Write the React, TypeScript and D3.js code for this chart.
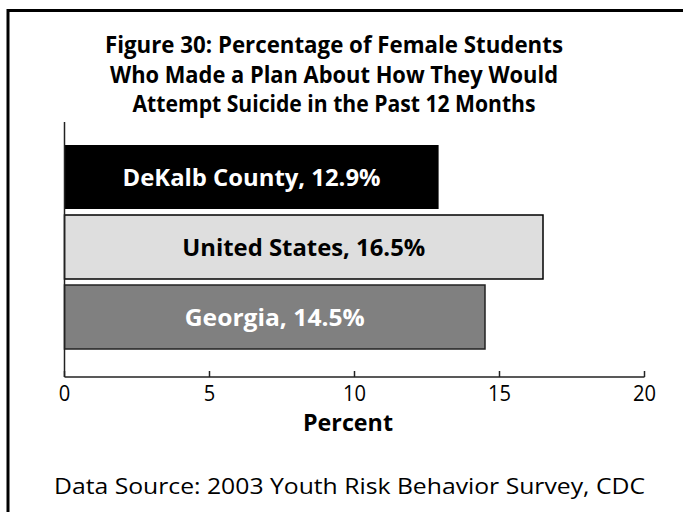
import React from "react";
import * as d3 from "d3";

// Survey results: share of female students who made a suicide plan
const categories = ["DeKalb County", "United States", "Georgia"];
const values = [12.9, 16.5, 14.5];
const barFills = ["#000000", "#dedede", "#808080"];
const labelFills = ["#ffffff", "#000000", "#ffffff"];
const xTicks = [0, 5, 10, 15, 20];
const titleLines = [
  "Figure 30: Percentage of Female Students",
  "Who Made a Plan About How They Would",
  "Attempt Suicide in the Past 12 Months",
];
const axisTitle = "Percent";
const sourceNote = "Data Source: 2003 Youth Risk Behavior Survey, CDC";

const W = 683;
const H = 512;
const FONT = "'Open Sans', 'Noto Sans', sans-serif";

export default function App() {
  const x = d3.scaleLinear().domain([0, 20]).range([64.5, 644.5]);
  const y = d3
    .scaleBand<string>()
    .domain(categories)
    .range([142, 352])
    .paddingInner(6 / 70)
    .paddingOuter(6 / 70 / 2);
  const axisY = 377;
  const titleWidths = [458, 448, 403];
  const labelWidths = [258, 243, 180];

  return (
    <svg
      width={W}
      height={H}
      viewBox={`0 0 ${W} ${H}`}
      style={{ position: "absolute", left: 0, top: 0, background: "#fff" }}
    >
      {/* frame: top and left rules */}
      <path d={`M8 ${H} V10.5 H${W}`} fill="none" stroke="#000" strokeWidth={3} />

      {titleLines.map((t, i) => (
        <text
          key={t}
          x={334}
          y={53 + i * 29.5}
          textAnchor="middle"
          fontFamily={FONT}
          fontWeight={700}
          fontSize={24}
          textLength={titleWidths[i]}
          lengthAdjust="spacingAndGlyphs"
          fill="#000"
        >
          {t}
        </text>
      ))}

      {categories.map((c, i) => {
        const y0 = y(c)!;
        const bw = y.bandwidth();
        const x1 = x(values[i]);
        const outlined = i > 0;
        return (
          <g key={c}>
            <rect
              x={x(0)}
              y={y0}
              width={x1 - x(0)}
              height={bw}
              fill={barFills[i]}
              stroke={outlined ? (i === 1 ? "#000" : "#222") : "none"}
              strokeWidth={outlined ? 1.5 : 0}
            />
            <text
              x={(x(0) + x1) / 2}
              y={y0 + bw / 2 + 8.5}
              textAnchor="middle"
              fontFamily={FONT}
              fontWeight={700}
              fontSize={24}
              textLength={labelWidths[i]}
              lengthAdjust="spacingAndGlyphs"
              fill={labelFills[i]}
            >
              {`${c}, ${values[i]}%`}
            </text>
          </g>
        );
      })}

      {/* value axis with inward ticks and the category axis rule */}
      <line x1={x(0)} x2={x(0)} y1={122} y2={axisY} stroke="#222" strokeWidth={1.5} />
      <line x1={x(0)} x2={x(20)} y1={axisY} y2={axisY} stroke="#222" strokeWidth={1.5} />
      {xTicks.map((t) => (
        <g key={t}>
          <line x1={x(t)} x2={x(t)} y1={axisY} y2={axisY - 6} stroke="#222" strokeWidth={1.5} />
          <text
            x={x(t)}
            y={401}
            textAnchor="middle"
            fontFamily={FONT}
            fontSize={21}
            textLength={String(t).length * 11.5}
            lengthAdjust="spacingAndGlyphs"
            fill="#000"
          >
            {t}
          </text>
        </g>
      ))}
      <text
        x={348}
        y={431}
        textAnchor="middle"
        fontFamily={FONT}
        fontWeight={700}
        fontSize={23}
        textLength={90}
        lengthAdjust="spacingAndGlyphs"
        fill="#000"
      >
        {axisTitle}
      </text>

      <text
        x={54}
        y={494}
        fontFamily={FONT}
        fontSize={22.5}
        textLength={591}
        lengthAdjust="spacingAndGlyphs"
        fill="#000"
      >
        {sourceNote}
      </text>
    </svg>
  );
}
